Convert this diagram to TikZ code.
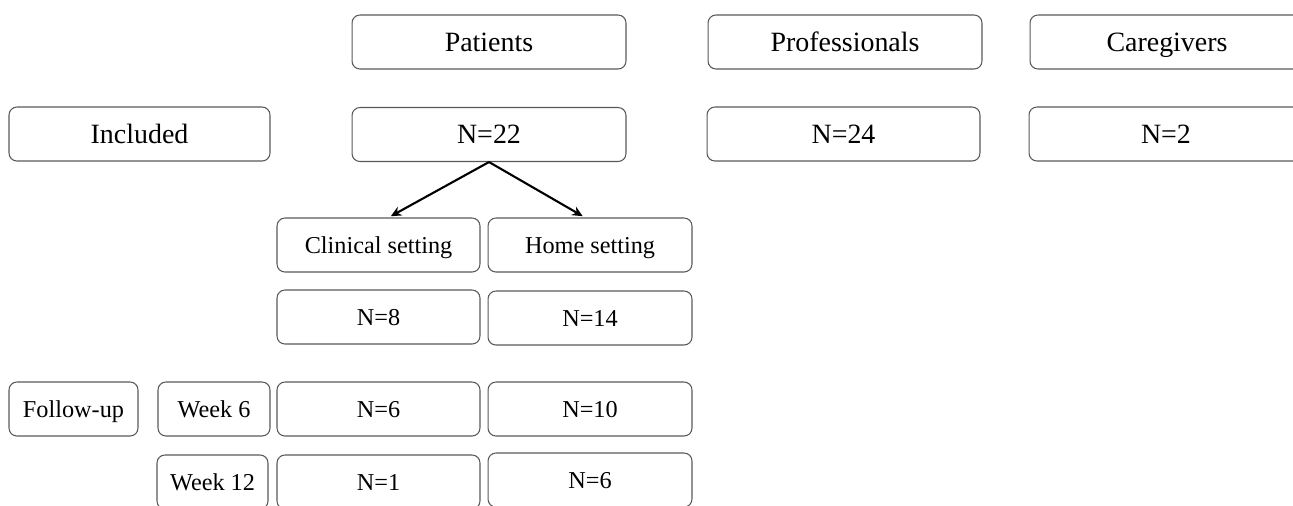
\documentclass[tikz,border=0pt]{standalone}
\usepackage{fontspec}
\setmainfont{Liberation Serif}
\usetikzlibrary{arrows.meta}
\begin{document}
\begin{tikzpicture}[x=0.02cm,y=-0.02cm]
        \tikzstyle{box}=[draw=black!65, line width=0.6pt, rounded corners=4.5pt, text depth=0pt, inner sep=0pt, minimum height=1.08cm]
        \tikzstyle{big}=[box, font=\fontsize{15.9}{19}\selectfont, text height=10.5pt]
        \tikzstyle{small}=[box, font=\fontsize{13.8}{16}\selectfont, text height=9.1pt]
        \tikzstyle{arr}=[-{Stealth[length=6pt,width=5.5pt]}, line width=1.2pt, shorten >=1.5pt]
            \useasboundingbox (0,0) rectangle (1293,505);
            \clip (0,0) rectangle (1293,505);
            \node[big, minimum width=5.48cm] (pat) at (489,42) {Patients};
            \node[big, minimum width=5.48cm] (prof) at (845,42) {Professionals};
            \node[big, minimum width=5.48cm] (care) at (1167,42) {Caregivers};
            \node[big, minimum width=5.22cm] (incl) at (139.5,134) {Included};
            \node[big, minimum width=5.48cm] (n22) at (489,134.5) {N=22};
            \node[big, minimum width=5.46cm] (n24) at (843.5,134) {N=24};
            \node[big, minimum width=5.48cm] (n2) at (1166,134) {N=2};
            \node[small, minimum width=4.06cm] (clin) at (378.5,245) {Clinical setting};
            \node[small, minimum width=4.08cm] (home) at (590,245) {Home setting};
            \node[small, minimum width=4.06cm] (n8) at (378.5,317) {N=8};
            \node[small, minimum width=4.08cm] (n14) at (590,318) {N=14};
            \node[small, minimum width=2.58cm] (fol) at (73.5,409) {Follow-up};
            \node[small, minimum width=2.24cm] (wk6) at (214,409) {Week 6};
            \node[small, minimum width=2.22cm] (wk12) at (212.5,482) {Week 12};
            \node[small, minimum width=4.06cm] (n6c) at (378.5,409) {N=6};
            \node[small, minimum width=4.08cm] (n10) at (590,409) {N=10};
            \node[small, minimum width=4.06cm] (n1) at (378.5,482) {N=1};
            \node[small, minimum width=4.08cm] (n6h) at (590,480) {N=6};
            \draw[arr] (n22.south) -- ([xshift=0.2cm]clin.north);
            \draw[arr] (n22.south) -- ([xshift=-0.1cm]home.north);
        \end{tikzpicture}
\end{document}
